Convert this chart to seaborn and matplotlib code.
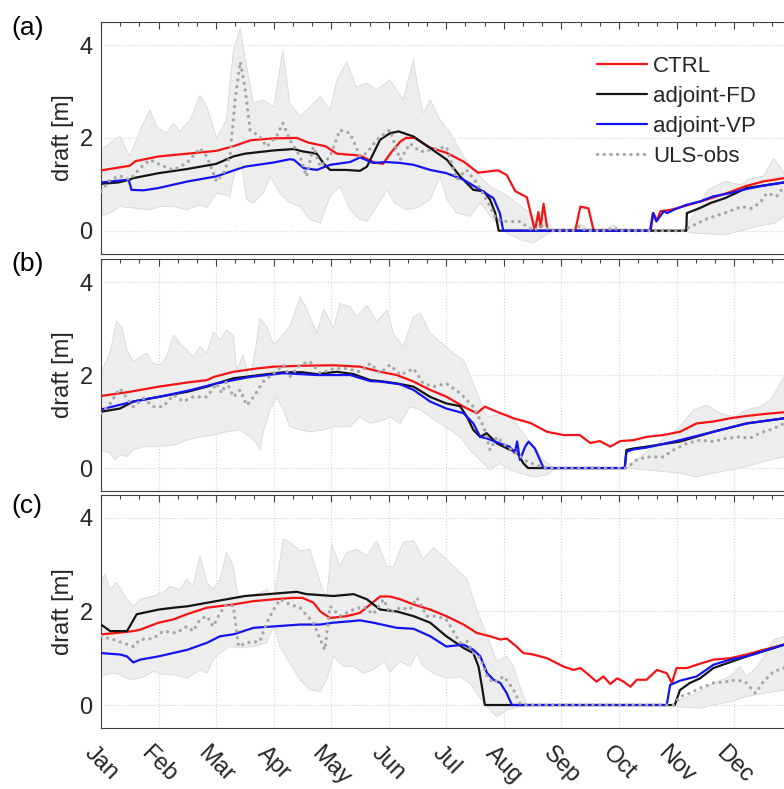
import pandas as pd
import matplotlib
matplotlib.use("Agg")
import matplotlib.pyplot as plt
import seaborn as sns
from matplotlib.lines import Line2D
from matplotlib.ticker import MultipleLocator

# month axis: 0 = 1 Jan, 12 = end of Dec
months = ['Jan', 'Feb', 'Mar', 'Apr', 'May', 'Jun', 'Jul', 'Aug', 'Sep', 'Oct', 'Nov', 'Dec']
series_names = ['CTRL', 'adjoint-FD', 'adjoint-VP', 'ULS-obs']
panel_labels = ['(a)', '(b)', '(c)']

# ---------------- panel (a) ----------------
a_ctrl = [(0, 1.30), (0.5, 1.40), (0.6, 1.50), (1.0, 1.60), (1.5, 1.66), (2.0, 1.72), (2.3, 1.82), (2.6, 1.95),
          (3.0, 1.99), (3.4, 2.0), (3.6, 1.90), (3.9, 1.82), (4.1, 1.66), (4.5, 1.62), (4.75, 1.47), (4.9, 1.44),
          (5.05, 1.7), (5.2, 1.92), (5.3, 2.0), (5.45, 2.0), (5.7, 1.8), (6.0, 1.68), (6.3, 1.49), (6.55, 1.25),
          (6.75, 1.28), (6.9, 1.30), (7.05, 1.2), (7.2, 0.85), (7.4, 0.72), (7.54, 0.0), (7.6, 0.4), (7.64, 0.08),
          (7.69, 0.58), (7.76, 0.0), (8.24, 0.0), (8.33, 0.52), (8.47, 0.48), (8.56, 0.0), (9.55, 0.0), (9.6, 0.38),
          (9.66, 0.22), (9.72, 0.42), (9.9, 0.45), (10.2, 0.55), (10.6, 0.7), (10.9, 0.82), (11.2, 0.96),
          (11.5, 1.06), (11.9, 1.14), (12, 1.15)]
a_fd = [(0, 1.01), (0.3, 1.04), (0.5, 1.10), (0.55, 1.13), (1.0, 1.24), (1.5, 1.33), (2.0, 1.44), (2.3, 1.6),
        (2.5, 1.66), (3.0, 1.73), (3.35, 1.76), (3.5, 1.71), (3.75, 1.66), (3.86, 1.46), (3.98, 1.31), (4.25, 1.31),
        (4.5, 1.29), (4.62, 1.38), (4.85, 1.96), (5.02, 2.1), (5.17, 2.14), (5.43, 2.03), (5.72, 1.78), (6.01, 1.53),
        (6.24, 1.17), (6.47, 0.88), (6.65, 0.85), (6.76, 0.67), (6.85, 0.38), (6.91, 0.0), (10.17, 0.0),
        (10.18, 0.38), (10.41, 0.49), (10.6, 0.6), (10.84, 0.7), (11.22, 0.92), (11.87, 1.04), (12, 1.06)]
a_vp = [(0, 1.04), (0.48, 1.10), (0.53, 0.88), (0.74, 0.87), (1.0, 0.92), (1.5, 1.06), (2.0, 1.17), (2.5, 1.38),
        (3.0, 1.47), (3.28, 1.54), (3.35, 1.53), (3.52, 1.35), (3.75, 1.31), (3.98, 1.42), (4.33, 1.48), (4.5, 1.58),
        (4.73, 1.46), (4.96, 1.48), (5.2, 1.46), (5.43, 1.42), (5.72, 1.31), (6.0, 1.24), (6.3, 1.1), (6.59, 0.88),
        (6.82, 0.7), (6.93, 0.38), (6.99, 0.0), (9.54, 0.0), (9.59, 0.38), (9.65, 0.2), (9.78, 0.42), (9.84, 0.38),
        (9.95, 0.45), (10.18, 0.56), (10.41, 0.63), (10.64, 0.74), (10.93, 0.81), (11.22, 0.9), (11.51, 0.97),
        (11.87, 1.04), (12, 1.06)]
a_obs = [(0, 0.85), (0.16, 1.1), (0.33, 1.18), (0.5, 1.1), (0.68, 1.35), (0.85, 1.53), (1.03, 1.42), (1.26, 1.31),
         (1.49, 1.46), (1.72, 1.78), (1.84, 1.6), (2.01, 1.06), (2.13, 1.24), (2.24, 1.6), (2.33, 2.82), (2.42, 3.64),
         (2.5, 3.1), (2.59, 2.17), (2.76, 2.03), (2.88, 1.81), (3.05, 2.03), (3.16, 2.32), (3.28, 1.96), (3.46, 1.6),
         (3.57, 1.17), (3.69, 1.81), (3.81, 1.38), (3.98, 1.6), (4.15, 2.17), (4.33, 2.1), (4.5, 1.6), (4.62, 1.67),
         (4.79, 1.96), (5.02, 2.17), (5.2, 1.53), (5.37, 1.88), (5.55, 1.7), (5.72, 1.74), (6.0, 1.81), (6.18, 1.1),
         (6.35, 1.31), (6.53, 1.03), (6.7, 0.67), (6.87, 0.24), (7.05, 0.2), (7.28, 0.2), (7.51, 0.0), (7.69, 0.12),
         (7.8, 0.0), (8.2, 0.0), (8.32, 0.1), (8.42, 0.0), (8.8, 0.0), (8.9, 0.07), (9.0, 0.0), (10.1, 0.0),
         (10.25, 0.09), (10.55, 0.27), (10.84, 0.38), (11.13, 0.52), (11.3, 0.48), (11.45, 0.6), (11.57, 0.81),
         (11.74, 0.74), (11.87, 0.95), (12, 1.0)]
a_upper = [(0, 1.74), (0.16, 1.89), (0.33, 2.03), (0.5, 1.6), (0.68, 2.17), (0.85, 2.6), (0.97, 2.24), (1.14, 2.1),
           (1.26, 2.32), (1.37, 2.14), (1.55, 2.39), (1.72, 2.92), (1.84, 2.67), (2.01, 1.99), (2.18, 2.39),
           (2.3, 3.89), (2.42, 4.36), (2.5, 3.75), (2.65, 2.75), (2.82, 2.82), (3.0, 2.67), (3.16, 3.89), (3.28, 2.75),
           (3.46, 2.46), (3.63, 2.67), (3.81, 2.89), (3.98, 2.6), (4.1, 3.25), (4.27, 3.64), (4.44, 3.1), (4.62, 3.18),
           (4.79, 3.03), (5.02, 3.25), (5.25, 2.82), (5.43, 3.68), (5.49, 3.2), (5.6, 2.53), (5.72, 2.82),
           (5.89, 2.39), (6.07, 2.1), (6.3, 1.6), (6.53, 1.24), (6.76, 0.95), (6.99, 0.81), (7.22, 0.6), (7.45, 0.38),
           (7.69, 0.24), (7.85, 0.05), (8.2, 0.05), (8.32, 0.15), (8.45, 0.05), (8.8, 0.05), (8.9, 0.12), (9.0, 0.05),
           (10.1, 0.0), (10.25, 0.24), (10.55, 0.88), (10.84, 1.06), (11.13, 0.99), (11.22, 1.1), (11.51, 1.17),
           (11.69, 1.56), (11.8, 1.38), (11.87, 1.24), (12, 1.3)]
a_lower = [(0, 0.31), (0.16, 0.38), (0.33, 0.52), (0.56, 0.49), (0.85, 0.45), (1.03, 0.52), (1.26, 0.52),
           (1.49, 0.45), (1.72, 0.56), (1.84, 0.5), (2.01, 0.81), (2.24, 0.74), (2.33, 1.31), (2.44, 1.46),
           (2.53, 0.67), (2.65, 0.6), (2.82, 0.81), (2.94, 1.17), (3.11, 0.81), (3.28, 0.6), (3.46, 0.52),
           (3.63, 0.24), (3.81, 0.16), (3.98, 0.74), (4.15, 0.95), (4.33, 0.45), (4.5, 0.24), (4.62, 0.2),
           (4.79, 0.52), (4.97, 0.88), (5.1, 0.6), (5.3, 0.45), (5.5, 0.5), (5.72, 0.67), (5.89, 1.17), (6.01, 0.67),
           (6.18, 0.38), (6.41, 0.31), (6.59, 0.6), (6.82, 0.24), (7.05, -0.05), (7.28, -0.19), (7.51, -0.27),
           (7.69, -0.12), (7.86, 0.0), (10.1, 0.0), (10.3, -0.05), (10.84, -0.09), (11.13, 0.0), (11.42, 0.1),
           (11.71, 0.16), (11.87, 0.31), (12, 0.35)]

# ---------------- panel (b) ----------------
b_ctrl = [(0, 1.55), (0.5, 1.64), (1.0, 1.75), (1.5, 1.84), (1.84, 1.89), (1.96, 1.96), (2.3, 2.07), (2.7, 2.14),
          (3.0, 2.18), (3.5, 2.2), (4.04, 2.21), (4.5, 2.18), (4.85, 2.07), (5.14, 2.0), (5.43, 1.86), (5.72, 1.68),
          (6.01, 1.53), (6.3, 1.32), (6.53, 1.18), (6.67, 1.32), (6.88, 1.21), (7.17, 1.07), (7.46, 0.97),
          (7.75, 0.78), (8.04, 0.71), (8.32, 0.71), (8.5, 0.54), (8.67, 0.58), (8.85, 0.46), (9.02, 0.58),
          (9.25, 0.6), (9.48, 0.67), (9.77, 0.71), (10.06, 0.78), (10.35, 0.96), (10.64, 1.0), (10.93, 1.07),
          (11.22, 1.12), (11.51, 1.16), (11.87, 1.2), (12, 1.21)]
b_fd = [(0, 1.21), (0.33, 1.28), (0.56, 1.43), (1.0, 1.53), (1.5, 1.64), (1.84, 1.75), (2.01, 1.82), (2.3, 1.93),
        (2.76, 2.0), (3.17, 2.06), (3.5, 2.06), (3.75, 2.02), (4.1, 2.07), (4.39, 2.02), (4.68, 1.89), (4.85, 1.87),
        (5.14, 1.82), (5.43, 1.75), (5.72, 1.53), (6.0, 1.39), (6.24, 1.33), (6.36, 1.1), (6.47, 0.82), (6.59, 0.67),
        (6.7, 0.75), (6.88, 0.53), (7.11, 0.39), (7.22, 0.36), (7.34, 0.1), (7.42, 0.0), (9.1, 0.0), (9.13, 0.39),
        (9.25, 0.42), (9.48, 0.46), (10.06, 0.57), (10.64, 0.78), (11.22, 0.96), (11.87, 1.07), (12, 1.09)]
b_vp = [(0, 1.26), (0.56, 1.43), (1.0, 1.53), (1.5, 1.66), (2.01, 1.82), (2.59, 1.96), (3.17, 2.04), (3.75, 2.0),
        (4.33, 2.0), (4.68, 1.87), (4.85, 1.86), (5.2, 1.8), (5.43, 1.68), (5.72, 1.43), (6.0, 1.28), (6.3, 1.18),
        (6.47, 0.96), (6.59, 0.67), (6.7, 0.64), (6.93, 0.53), (7.1, 0.46), (7.19, 0.32), (7.23, 0.57),
        (7.28, 0.17), (7.37, 0.46), (7.43, 0.57), (7.54, 0.42), (7.63, 0.17), (7.69, 0.0), (9.1, 0.0), (9.13, 0.35),
        (9.25, 0.4), (9.48, 0.44), (10.06, 0.6), (10.64, 0.78), (11.22, 0.96), (11.87, 1.07), (12, 1.09)]
b_obs = [(0, 1.18), (0.16, 1.39), (0.33, 1.71), (0.45, 1.5), (0.56, 1.32), (0.74, 1.5), (0.91, 1.32), (1.08, 1.32),
         (1.26, 1.57), (1.43, 1.43), (1.6, 1.53), (1.84, 1.53), (2.01, 1.82), (2.1, 1.61), (2.18, 1.86), (2.3, 1.53),
         (2.42, 1.68), (2.53, 1.35), (2.65, 1.53), (2.82, 1.86), (3.0, 2.04), (3.17, 2.22), (3.28, 1.96),
         (3.46, 2.22), (3.63, 2.29), (3.81, 2.04), (4.04, 2.14), (4.27, 2.14), (4.5, 2.07), (4.68, 2.25),
         (4.85, 2.04), (5.02, 2.22), (5.2, 2.0), (5.43, 2.14), (5.6, 1.82), (5.78, 1.75), (6.0, 1.82), (6.24, 1.61),
         (6.47, 1.32), (6.65, 0.89), (6.76, 0.39), (6.88, 0.67), (7.05, 0.46), (7.22, 0.32), (7.4, 0.14),
         (7.57, 0.06), (7.75, 0.0), (9.13, 0.0), (9.3, 0.17), (9.48, 0.24), (9.77, 0.24), (9.95, 0.39),
         (10.18, 0.53), (10.41, 0.6), (10.64, 0.57), (10.87, 0.64), (11.1, 0.67), (11.27, 0.64), (11.45, 0.75),
         (11.69, 0.85), (11.87, 0.96), (12, 1.0)]
b_upper = [(0, 2.04), (0.16, 2.5), (0.27, 3.15), (0.36, 3.04), (0.45, 2.54), (0.56, 2.29), (0.68, 2.39),
           (0.79, 2.47), (0.91, 2.25), (1.03, 2.22), (1.14, 2.39), (1.26, 2.86), (1.37, 2.68), (1.49, 2.54),
           (1.6, 2.39), (1.72, 2.61), (1.84, 2.47), (1.95, 2.93), (2.07, 2.75), (2.18, 2.97), (2.3, 2.85),
           (2.36, 2.11), (2.47, 2.43), (2.59, 1.89), (2.7, 2.68), (2.76, 3.22), (2.88, 3.04), (3.0, 2.65),
           (3.11, 2.8), (3.28, 3.04), (3.46, 3.68), (3.57, 3.43), (3.75, 2.9), (3.87, 3.43), (4.04, 3.0),
           (4.15, 3.54), (4.33, 3.47), (4.44, 3.25), (4.62, 3.5), (4.79, 3.15), (4.97, 3.4), (5.08, 2.9),
           (5.25, 2.61), (5.43, 3.25), (5.55, 3.33), (5.72, 2.9), (5.89, 2.72), (6.12, 2.47), (6.3, 2.32),
           (6.47, 1.82), (6.7, 1.1), (6.88, 1.14), (7.05, 1.18), (7.17, 1.03), (7.34, 0.75), (7.51, 0.46),
           (7.69, 0.17), (7.86, 0.0), (9.13, 0.0), (9.37, 0.24), (9.6, 0.46), (9.83, 0.67), (10.06, 0.89),
           (10.3, 1.25), (10.52, 1.35), (10.76, 1.18), (11.0, 1.1), (11.22, 1.25), (11.45, 1.32), (11.63, 1.46),
           (11.74, 1.68), (11.87, 1.96), (12, 2.1)]
b_lower = [(0, 0.39), (0.16, 0.32), (0.24, 0.17), (0.33, 0.28), (0.45, 0.25), (0.56, 0.39), (0.74, 0.46),
           (0.97, 0.46), (1.26, 0.49), (1.49, 0.6), (1.72, 0.67), (1.95, 0.71), (2.18, 0.78), (2.42, 0.82),
           (2.59, 0.67), (2.7, 0.53), (2.76, 0.39), (2.82, 0.78), (2.94, 1.25), (3.05, 1.53), (3.17, 1.25),
           (3.28, 0.89), (3.46, 0.82), (3.63, 0.78), (3.87, 0.82), (4.04, 0.89), (4.33, 0.89), (4.5, 1.1),
           (4.68, 0.96), (4.91, 1.03), (5.02, 1.1), (5.2, 0.96), (5.37, 1.32), (5.55, 1.25), (5.72, 1.1),
           (5.89, 0.96), (6.07, 0.82), (6.24, 0.67), (6.41, 0.39), (6.59, 0.17), (6.76, -0.04), (6.93, 0.1),
           (7.11, -0.04), (7.28, -0.11), (7.51, -0.19), (7.75, -0.15), (7.86, -0.04), (7.95, 0.0), (9.13, 0.0),
           (9.48, -0.04), (10.06, -0.11), (10.35, -0.19), (10.64, -0.11), (10.93, -0.04), (11.22, 0.03),
           (11.51, 0.14), (11.87, 0.24), (12, 0.28)]

# ---------------- panel (c) ----------------
c_ctrl = [(0, 1.51), (0.27, 1.54), (0.56, 1.58), (0.68, 1.61), (1.0, 1.76), (1.26, 1.83), (1.49, 1.94),
          (1.84, 2.08), (2.3, 2.15), (2.65, 2.22), (3.0, 2.26), (3.34, 2.29), (3.5, 2.29), (3.69, 2.19), (3.81, 2.0),
          (3.98, 1.86), (4.27, 1.9), (4.5, 1.97), (4.68, 2.15), (4.85, 2.32), (5.02, 2.32), (5.2, 2.26),
          (5.43, 2.15), (5.72, 2.04), (6.0, 1.9), (6.3, 1.72), (6.53, 1.54), (6.76, 1.47), (6.94, 1.4), (7.05, 1.42),
          (7.22, 1.25), (7.34, 1.11), (7.51, 1.08), (7.75, 1.0), (8.04, 0.82), (8.21, 0.75), (8.33, 0.79),
          (8.44, 0.68), (8.61, 0.5), (8.73, 0.61), (8.85, 0.45), (8.97, 0.57), (9.08, 0.5), (9.2, 0.39),
          (9.31, 0.54), (9.48, 0.54), (9.66, 0.75), (9.83, 0.68), (9.92, 0.47), (10.0, 0.79), (10.18, 0.79),
          (10.35, 0.86), (10.64, 0.97), (10.93, 1.0), (11.22, 1.08), (11.51, 1.18), (11.87, 1.29), (12, 1.33)]
c_fd = [(0, 1.72), (0.16, 1.58), (0.45, 1.58), (0.5, 1.68), (0.62, 1.94), (1.0, 2.04), (1.26, 2.08), (1.5, 2.11),
        (2.0, 2.22), (2.5, 2.33), (3.0, 2.38), (3.4, 2.42), (3.57, 2.37), (4.04, 2.33), (4.39, 2.37), (4.62, 2.26),
        (4.85, 2.04), (5.14, 2.0), (5.43, 1.9), (5.72, 1.76), (6.0, 1.47), (6.3, 1.22), (6.47, 1.11), (6.56, 0.82),
        (6.62, 0.39), (6.67, 0.0), (9.97, 0.0), (10.06, 0.32), (10.23, 0.47), (10.41, 0.57), (10.64, 0.79),
        (11.22, 1.04), (11.87, 1.29), (12, 1.33)]
c_vp = [(0, 1.11), (0.33, 1.08), (0.45, 1.04), (0.56, 0.91), (0.68, 0.97), (1.0, 1.04), (1.5, 1.18), (1.84, 1.33),
        (2.07, 1.47), (2.3, 1.51), (2.65, 1.65), (3.0, 1.68), (3.46, 1.72), (3.81, 1.72), (4.04, 1.76), (4.33, 1.79),
        (4.5, 1.81), (4.73, 1.76), (5.14, 1.65), (5.43, 1.63), (5.72, 1.47), (6.0, 1.25), (6.3, 1.29), (6.47, 1.18),
        (6.59, 1.04), (6.71, 0.68), (6.82, 0.54), (6.94, 0.47), (7.05, 0.25), (7.14, 0.0), (9.83, 0.0),
        (9.89, 0.43), (10.06, 0.52), (10.35, 0.61), (10.64, 0.86), (10.93, 0.97), (11.22, 1.04), (11.51, 1.15),
        (11.87, 1.29), (12, 1.33)]
c_obs = [(0, 1.47), (0.21, 1.4), (0.56, 1.25), (0.68, 1.4), (0.91, 1.42), (1.08, 1.58), (1.31, 1.54), (1.49, 1.68),
         (1.6, 1.58), (1.72, 1.83), (1.84, 1.9), (1.95, 1.68), (2.07, 1.97), (2.18, 2.15), (2.3, 2.12), (2.39, 1.25),
         (2.53, 1.33), (2.76, 1.36), (2.88, 1.76), (3.0, 2.04), (3.11, 2.26), (3.28, 2.15), (3.46, 2.08),
         (3.69, 1.76), (3.81, 1.4), (3.89, 1.18), (3.98, 2.11), (4.15, 1.9), (4.39, 2.04), (4.56, 2.11),
         (4.73, 1.94), (4.91, 2.26), (5.02, 1.97), (5.2, 2.08), (5.37, 2.04), (5.49, 2.29), (5.66, 1.9), (5.83, 1.9),
         (6.0, 1.83), (6.24, 1.33), (6.36, 1.36), (6.47, 1.11), (6.59, 1.0), (6.71, 0.61), (6.82, 0.47), (7.0, 0.61),
         (7.17, 0.32), (7.28, 0.04), (7.34, 0.0), (9.95, 0.0), (10.06, 0.18), (10.23, 0.25), (10.41, 0.36),
         (10.64, 0.47), (10.87, 0.5), (11.05, 0.54), (11.22, 0.47), (11.37, 0.25), (11.51, 0.5), (11.69, 0.72),
         (11.87, 0.79), (12, 0.82)]
c_upper = [(0, 2.62), (0.07, 2.8), (0.16, 2.47), (0.27, 2.62), (0.45, 2.26), (0.56, 2.11), (0.68, 2.26),
           (0.91, 2.33), (1.08, 2.4), (1.2, 2.54), (1.37, 2.47), (1.49, 2.69), (1.6, 2.55), (1.72, 3.19),
           (1.84, 2.62), (1.95, 2.47), (2.07, 2.69), (2.18, 3.26), (2.3, 2.97), (2.39, 2.26), (2.53, 2.33),
           (2.76, 2.4), (2.88, 2.47), (3.0, 2.26), (3.17, 3.55), (3.28, 3.48), (3.46, 3.3), (3.63, 3.33),
           (3.81, 2.62), (3.92, 2.26), (4.01, 3.44), (4.15, 2.97), (4.27, 3.26), (4.44, 3.33), (4.62, 3.19),
           (4.79, 3.51), (4.97, 2.97), (5.08, 2.95), (5.25, 3.48), (5.43, 3.51), (5.6, 3.12), (5.78, 3.37),
           (6.0, 3.12), (6.18, 2.9), (6.36, 2.69), (6.53, 2.04), (6.71, 1.47), (6.88, 0.93), (7.05, 1.04),
           (7.17, 0.82), (7.28, 0.39), (7.4, 0.0), (9.95, 0.0), (10.06, 0.11), (10.35, 0.25), (10.64, 0.47),
           (10.93, 0.61), (11.1, 0.82), (11.22, 0.61), (11.4, 0.82), (11.57, 1.11), (11.69, 1.4), (11.87, 1.47),
           (12, 1.55)]
c_lower = [(0, 0.61), (0.16, 0.68), (0.27, 0.68), (0.45, 0.57), (0.56, 0.54), (0.74, 0.6), (0.91, 0.72),
           (1.08, 0.65), (1.26, 0.65), (1.49, 0.57), (1.72, 0.75), (1.84, 0.68), (1.95, 0.97), (2.07, 1.11),
           (2.24, 1.25), (2.42, 1.22), (2.65, 1.25), (2.88, 1.33), (3.0, 1.68), (3.11, 1.25), (3.28, 0.9),
           (3.46, 0.54), (3.63, 0.32), (3.81, 0.29), (3.92, 0.54), (4.04, 1.04), (4.21, 0.82), (4.39, 0.82),
           (4.56, 0.68), (4.73, 0.75), (4.91, 0.93), (5.02, 0.7), (5.2, 0.93), (5.37, 0.82), (5.49, 1.11),
           (5.6, 0.82), (5.78, 0.68), (6.0, 0.57), (6.24, 0.6), (6.41, 0.47), (6.59, 0.14), (6.76, -0.11),
           (6.88, -0.25), (7.05, -0.11), (7.28, -0.04), (7.4, 0.0), (9.95, 0.0), (10.06, -0.04), (10.41, -0.07),
           (10.64, 0.0), (10.93, 0.07), (11.22, 0.18), (11.51, 0.25), (11.87, 0.32), (12, 0.35)]

panel_lines = [
    [a_ctrl, a_fd, a_vp, a_obs],
    [b_ctrl, b_fd, b_vp, b_obs],
    [c_ctrl, c_fd, c_vp, c_obs],
]
panel_bands = [(a_upper, a_lower), (b_upper, b_lower), (c_upper, c_lower)]

# long table for seaborn
frames = []
for p, lines in enumerate(panel_lines):
    for name, pts in zip(series_names, lines):
        f = pd.DataFrame(pts, columns=['month', 'draft'])
        f['series'] = name
        f['panel'] = p
        frames.append(f)
df = pd.concat(frames, ignore_index=True)

palette = {'CTRL': '#f51414', 'adjoint-FD': '#141414', 'adjoint-VP': '#1414f0', 'ULS-obs': '#a6a6a6'}
widths = {'CTRL': 1.6, 'adjoint-FD': 1.6, 'adjoint-VP': 1.6, 'ULS-obs': 2.4}
dash_map = {'CTRL': '', 'adjoint-FD': '', 'adjoint-VP': '', 'ULS-obs': (0.01, 2.0)}

sns.set_theme(style='white')
plt.rcParams['font.family'] = ['Liberation Sans', 'DejaVu Sans']
text_col = '#262626'
axis_col = '#404040'
fs = 17

W, H = 784, 789
fig = plt.figure(figsize=(W / 100, H / 100), dpi=100)
x0, x1 = 101, 791.6
boxes = [(21.9, 253.9), (258.8, 491.3), (494.5, 728.4)]
label_y = [28, 264, 506]

for p, (top, bot) in enumerate(boxes):
    ax = fig.add_axes([x0 / W, 1 - bot / H, (x1 - x0) / W, (bot - top) / H])

    up, lo = panel_bands[p]
    bx = [m for m, _ in up] + [m for m, _ in lo[::-1]]
    by = [v for _, v in up] + [v for _, v in lo[::-1]]
    ax.fill(bx, by, facecolor='#ededed', edgecolor='#d8d8d8', lw=0.6, zorder=1)

    sns.lineplot(data=df[df['panel'] == p], x='month', y='draft',
                 hue='series', hue_order=series_names, palette=palette,
                 size='series', sizes=widths, style='series', dashes=dash_map,
                 estimator=None, sort=False, legend=False, ax=ax,
                 dash_capstyle='round', zorder=3)

    ax.set_xlim(0, 12)
    ax.set_ylim(-0.5, 4.5)
    ax.set_xticks(range(12))
    ax.xaxis.set_minor_locator(MultipleLocator(1 / 3))
    ax.set_yticks([0, 2, 4])
    ax.yaxis.set_minor_locator(MultipleLocator(0.5))
    ax.tick_params(which='both', direction='in', top=True, right=False, color=axis_col,
                   labelsize=fs, labelcolor=text_col, width=0.8)
    ax.tick_params(which='major', length=5)
    ax.tick_params(which='minor', length=3)
    ax.tick_params(axis='y', pad=6)
    ax.grid(False)
    ax.grid(axis='y' if p == 0 else 'both', which='major', ls=':', color='#d4d4d4', lw=0.8)
    for s in ax.spines.values():
        s.set_color(axis_col)
        s.set_linewidth(0.8)
    ax.spines['right'].set_visible(False)
    ax.set_ylabel('draft [m]', fontsize=fs, color=text_col, labelpad=4)
    ax.set_xlabel('')
    if p == 2:
        ax.set_xticklabels(months, rotation=-45, ha='center')
        ax.tick_params(axis='x', pad=10)
    else:
        ax.set_xticklabels([])

    fig.text(11 / W, 1 - label_y[p] / H, panel_labels[p], fontsize=19, color='black',
             ha='left', va='center')

    if p == 0:
        handles = []
        for name in series_names:
            if name == 'ULS-obs':
                h = Line2D([], [], color=palette[name], lw=widths[name],
                           linestyle=(0, (0.01, 2.0)), dash_capstyle='round')
            else:
                h = Line2D([], [], color=palette[name], lw=widths[name])
            handles.append(h)
        ax.legend(handles, series_names, loc='upper left', bbox_to_anchor=(597 / W, 1 - 56 / H),
                  bbox_transform=fig.transFigure, frameon=False, fontsize=16, handlelength=2.25,
                  handletextpad=0.27, labelspacing=0.4, borderpad=0, borderaxespad=0,
                  labelcolor=text_col)

fig.savefig('out.png', dpi=100)
